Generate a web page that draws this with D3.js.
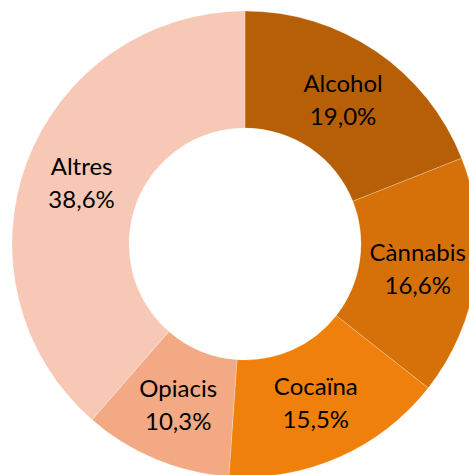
<!DOCTYPE html>
<html>
<head>
<meta charset="utf-8">
<script src="https://cdn.jsdelivr.net/npm/d3@7"></script>
<style>
  body { margin: 0; background: #fff; }
</style>
</head>
<body>
<div id="chart-area"></div>
<script>
const categories = ['Alcohol', 'Cànnabis', 'Cocaïna', 'Opiacis', 'Altres']
const values = [19.0, 16.6, 15.5, 10.3, 38.6]
const colors = ['#b65f07', '#d57108', '#ef800c', '#f3a984', '#f7c8b6']

const width = 469
const height = 475
const cx = 245, cy = 244
const outerR = 233, innerR = 116

const data = categories.map((c, i) => ({ name: c, value: values[i] }))

const svg = d3.select('#chart-area').append('svg')
    .attr('width', width)
    .attr('height', height)

const g = svg.append('g')
    .attr('transform', `translate(${cx}, ${cy})`)

const pie = d3.pie()
    .value(d => d.value)
    .sort(null)

const arc = d3.arc()
    .innerRadius(innerR)
    .outerRadius(outerR)

const color = d3.scaleOrdinal()
    .domain(categories)
    .range(colors)

const arcs = pie(data)

g.selectAll('path')
    .data(arcs).enter().append('path')
    .attr('d', arc)
    .attr('fill', d => color(d.data.name))
    .attr('stroke', 'rgba(255,255,255,0.4)')
    .attr('stroke-width', 0.6)

const fmt = v => d3.format('.1f')(v).replace('.', ',') + '%'

const labels = g.selectAll('text.label')
    .data(arcs).enter().append('text')
    .attr('class', 'label')
    .attr('transform', d => `translate(${arc.centroid(d)})`)
    .attr('text-anchor', 'middle')
    .attr('font-family', 'Lato, sans-serif')
    .attr('font-size', '24px')
    .attr('fill', '#000')

labels.append('tspan')
    .attr('x', 0)
    .attr('y', -8)
    .text(d => d.data.name)

labels.append('tspan')
    .attr('x', 0)
    .attr('y', 25)
    .text(d => fmt(d.data.value))
</script>
</body>
</html>
